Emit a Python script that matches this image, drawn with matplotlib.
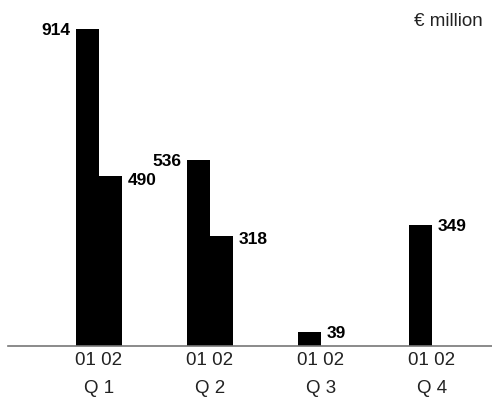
import matplotlib
matplotlib.use("Agg")
import matplotlib.pyplot as plt
import numpy as np

quarters = ["Q 1", "Q 2", "Q 3", "Q 4"]
year_labels = ["01", "02"]
values_01 = [914, 536, 39, 349]
values_02 = [490, 318, None, None]
unit_label = "€ million"

W, H = 492, 401
fig = plt.figure(figsize=(W / 100, H / 100), dpi=100)
base_px = 346
top_px = 10
ax = fig.add_axes([8 / W, (H - base_px) / H, 484 / W, (base_px - top_px) / H])

px_per_unit = 317 / 914
ax.set_ylim(0, (base_px - top_px) / px_per_unit)
spacing = 111.0
ax.set_xlim((8 - 99) / spacing, (492 - 99) / spacing)

bw = 22.7 / spacing
x = np.arange(len(quarters))
font = "Liberation Sans"
vfs = 12.5

for i, q in enumerate(quarters):
    v1 = values_01[i]
    v2 = values_02[i]
    x1 = x[i] - bw / 2
    x2 = x[i] + bw / 2
    if v1 is not None:
        ax.bar(x1, v1, width=bw, color="black", linewidth=0)
        if v2 is not None:
            ax.annotate(str(v1), (x1 - bw / 2, v1), xytext=(-4, -1), textcoords="offset points",
                        ha="right", va="center", fontsize=vfs, fontweight="bold", family=font)
        else:
            ax.annotate(str(v1), (x1 + bw / 2, v1), xytext=(4, -1), textcoords="offset points",
                        ha="left", va="center", fontsize=vfs, fontweight="bold", family=font)
    if v2 is not None:
        ax.bar(x2, v2, width=bw, color="black", linewidth=0)
        ax.annotate(str(v2), (x2 + bw / 2, v2), xytext=(4, -3), textcoords="offset points",
                    ha="left", va="center", fontsize=vfs, fontweight="bold", family=font)

for s in ["top", "right", "left"]:
    ax.spines[s].set_visible(False)
ax.spines["bottom"].set_color("#777777")
ax.spines["bottom"].set_linewidth(1.2)
ax.set_yticks([])
ax.set_xticks(x)
ax.set_xticklabels([f"{year_labels[0]} {year_labels[1]}\n{q}" for q in quarters],
                   fontsize=13.5, family=font, color="#222222", linespacing=1.85)
ax.tick_params(axis="x", length=0, pad=4)

fig.text(483 / W, 1 - 21 / H, unit_label, ha="right", va="center", fontsize=13.5,
         family=font, color="#222222")

fig.savefig("out.png", dpi=100)
